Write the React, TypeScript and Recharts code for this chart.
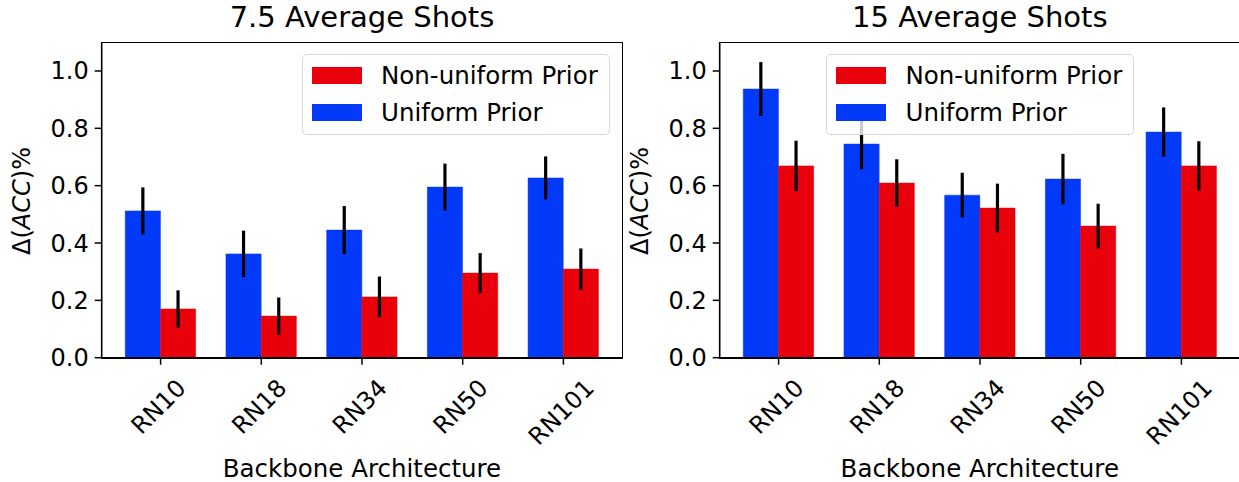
import React from "react";
import { BarChart, Bar, XAxis, YAxis, ErrorBar } from "recharts";

const categories = ["RN10", "RN18", "RN34", "RN50", "RN101"];

// 7.5 average shots
const uniform7 = [0.512, 0.362, 0.445, 0.595, 0.627];
const uniformErr7 = [0.082, 0.081, 0.084, 0.082, 0.075];
const nonUniform7 = [0.17, 0.145, 0.212, 0.295, 0.309];
const nonUniformErr7 = [0.065, 0.065, 0.071, 0.07, 0.072];

// 15 average shots
const uniform15 = [0.937, 0.745, 0.567, 0.623, 0.787];
const uniformErr15 = [0.094, 0.088, 0.078, 0.088, 0.086];
const nonUniform15 = [0.669, 0.609, 0.522, 0.459, 0.669];
const nonUniformErr15 = [0.088, 0.083, 0.085, 0.078, 0.086];

const yTicks = [0, 0.2, 0.4, 0.6, 0.8, 1.0];

const BLUE = "#0339f8";
const RED = "#e8000b";
const FONT = "'DejaVu Sans', sans-serif";

const build = (u: number[], ue: number[], n: number[], ne: number[]) =>
    categories.map((c, i) => ({ name: c, uniform: u[i], uniformErr: ue[i], nonUniform: n[i], nonUniformErr: ne[i] }));

const data7 = build(uniform7, uniformErr7, nonUniform7, nonUniformErr7);
const data15 = build(uniform15, uniformErr15, nonUniform15, nonUniformErr15);

const PLOT_LEFT = 101.7;
const PLOT_TOP = 42.3;
const PLOT_W = 520.6;
const PLOT_BOTTOM = 357.7;

function XTick(props: any) {
    const { x, y, payload } = props;
    const s = 24;
    const label: string = String(payload.value);
    let w = 0;
    for (const ch of label) w += ch === "R" ? 0.695 : ch === "N" ? 0.748 : 0.636;
    w *= s;
    const a = 0.729 * s;
    const cx = x - 2;
    const cy = y + 11 + (0.707 * (w + a)) / 2;
    return (
        <text
            x={cx}
            y={cy}
            textAnchor="middle"
            dominantBaseline="central"
            transform={`rotate(-45 ${cx} ${cy})`}
            fontSize={s}
            fontFamily={FONT}
            fill="#000"
        >
            {label}
        </text>
    );
}

function Panel({ data, title, legendLeft, left }: { data: any[]; title: string; legendLeft: number; left: number }) {
    const chartW = PLOT_LEFT + PLOT_W;
    return (
        <div style={{ position: "absolute", left, top: 0, width: chartW, height: 482 }}>
            <BarChart
                width={chartW}
                height={482}
                data={data}
                margin={{ top: PLOT_TOP, right: 0, bottom: 0, left: 0 }}
                barGap={0}
                barSize={35.2}
            >
                <XAxis
                    dataKey="name"
                    height={482 - PLOT_BOTTOM}
                    padding={{ left: 8.55, right: 8.55 }}
                    tick={<XTick />}
                    tickSize={7}
                    tickMargin={2}
                    tickLine={{ stroke: "#000", strokeWidth: 1.5 }}
                    axisLine={{ stroke: "#000", strokeWidth: 1.6 }}
                    interval={0}
                />
                <YAxis
                    width={PLOT_LEFT}
                    domain={[0, 1.1]}
                    ticks={yTicks}
                    tickFormatter={(v: number) => v.toFixed(1)}
                    tick={{ fill: "#000", fontSize: 24, fontFamily: FONT }}
                    tickSize={7}
                    tickMargin={6}
                    tickLine={{ stroke: "#000", strokeWidth: 1.5 }}
                    axisLine={{ stroke: "#000", strokeWidth: 1.6 }}
                    allowDataOverflow
                />
                <Bar dataKey="uniform" fill={BLUE} stroke={BLUE} strokeWidth={0.5} isAnimationActive={false}>
                    <ErrorBar dataKey="uniformErr" width={0} stroke="#000" strokeWidth={3.2} direction="y" />
                </Bar>
                <Bar dataKey="nonUniform" fill={RED} stroke={RED} strokeWidth={0.5} isAnimationActive={false}>
                    <ErrorBar dataKey="nonUniformErr" width={0} stroke="#000" strokeWidth={3.2} direction="y" />
                </Bar>
            </BarChart>
            {/* axes frame */}
            <div
                style={{
                    position: "absolute",
                    left: PLOT_LEFT - 0.8,
                    top: PLOT_TOP - 0.8,
                    width: PLOT_W + 1.6,
                    height: PLOT_BOTTOM - PLOT_TOP + 1.6,
                    border: "1.6px solid #000",
                    boxSizing: "border-box",
                    pointerEvents: "none",
                }}
            />
            {/* title */}
            <div
                style={{
                    position: "absolute",
                    left: PLOT_LEFT,
                    width: PLOT_W,
                    top: 0,
                    textAlign: "center",
                    fontSize: 29,
                    fontFamily: FONT,
                    lineHeight: "34px",
                    color: "#000",
                }}
            >
                {title}
            </div>
            {/* y label */}
            <div
                style={{
                    position: "absolute",
                    left: 22 - 100,
                    top: 201 - 15,
                    width: 200,
                    height: 30,
                    lineHeight: "30px",
                    textAlign: "center",
                    transform: "rotate(-90deg)",
                    fontSize: 24,
                    fontFamily: FONT,
                    color: "#000",
                }}
            >
                Δ(<i>ACC</i>)%
            </div>
            {/* x label */}
            <div
                style={{
                    position: "absolute",
                    left: PLOT_LEFT,
                    width: PLOT_W,
                    top: 454,
                    textAlign: "center",
                    fontSize: 24.5,
                    fontFamily: FONT,
                    lineHeight: "30px",
                    color: "#000",
                }}
            >
                Backbone Architecture
            </div>
            {/* legend */}
            <div
                style={{
                    position: "absolute",
                    left: legendLeft,
                    top: 54.3,
                    width: 308,
                    height: 81,
                    background: "rgba(255,255,255,0.8)",
                    border: "1.5px solid rgba(204,204,204,0.8)",
                    borderRadius: 5,
                    boxSizing: "border-box",
                    fontFamily: FONT,
                    fontSize: 24.5,
                    color: "#000",
                }}
            >
                {[
                    { label: "Non-uniform Prior", color: RED, cy: 20.5 },
                    { label: "Uniform Prior", color: BLUE, cy: 57.5 },
                ].map((it) => (
                    <div key={it.label} style={{ position: "absolute", left: 0, top: it.cy - 15, height: 30, width: "100%" }}>
                        <div style={{ position: "absolute", left: 9, top: 15 - 8.7, width: 50, height: 17.4, background: it.color }} />
                        <div style={{ position: "absolute", left: 78, top: 0, lineHeight: "30px", whiteSpace: "nowrap" }}>{it.label}</div>
                    </div>
                ))}
            </div>
        </div>
    );
}

export default function App() {
    return (
        <div style={{ position: "fixed", left: 0, top: 0, width: 1239, height: 482, overflow: "hidden", background: "#fff" }}>
            <Panel data={data7} title="7.5 Average Shots" legendLeft={302} left={0} />
            <Panel data={data15} title="15 Average Shots" legendLeft={826.5 - 617.8} left={719.5 - PLOT_LEFT} />
        </div>
    );
}
